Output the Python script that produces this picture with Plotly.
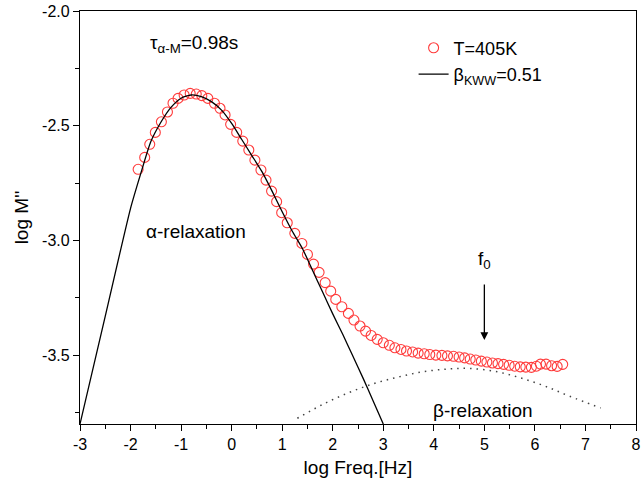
import plotly.graph_objects as go

# Measured data (T=405K)
log_freq = [-1.85, -1.72, -1.62, -1.51, -1.39, -1.27, -1.16, -1.06, -0.94, -0.82,
            -0.70, -0.59, -0.47, -0.34, -0.23, -0.13, -0.02, 0.10, 0.22, 0.34,
            0.46, 0.58, 0.68, 0.79, 0.89, 0.99, 1.10, 1.25, 1.39, 1.50,
            1.62, 1.73, 1.85, 1.96, 2.06, 2.18, 2.31, 2.42, 2.54, 2.65,
            2.76, 2.88, 3.00, 3.12, 3.23, 3.35, 3.46, 3.58, 3.69, 3.81,
            3.92, 4.04, 4.16, 4.27, 4.39, 4.50, 4.61, 4.72, 4.83, 4.94,
            5.05, 5.16, 5.27, 5.38, 5.49, 5.60, 5.71, 5.82, 5.93, 6.03,
            6.11, 6.22, 6.33, 6.44, 6.55]
log_M2 = [-2.690, -2.638, -2.581, -2.529, -2.483, -2.440, -2.402, -2.381, -2.366, -2.359,
          -2.362, -2.369, -2.381, -2.402, -2.424, -2.453, -2.494, -2.529, -2.567, -2.606,
          -2.650, -2.693, -2.737, -2.785, -2.831, -2.879, -2.923, -2.969, -3.013, -3.061,
          -3.103, -3.139, -3.184, -3.221, -3.257, -3.289, -3.318, -3.347, -3.373, -3.395,
          -3.414, -3.431, -3.446, -3.457, -3.468, -3.475, -3.482, -3.486, -3.491, -3.494,
          -3.497, -3.500, -3.501, -3.503, -3.505, -3.508, -3.512, -3.517, -3.521, -3.526,
          -3.530, -3.534, -3.537, -3.540, -3.544, -3.548, -3.551, -3.552, -3.553, -3.548,
          -3.539, -3.539, -3.546, -3.549, -3.540]

# KWW fit (alpha relaxation)
fit_x = [-3.0, -2.5, -2.0, -1.8, -1.6, -1.4, -1.2, -1.0, -0.8, -0.6, -0.4, -0.2, 0.0,
         0.2, 0.4, 0.6, 0.8, 1.0, 1.2, 1.4, 1.6, 1.8, 2.0, 2.2, 2.4, 2.6, 2.8, 3.0]
fit_y = [-3.80, -3.33, -2.86, -2.71, -2.57, -2.485, -2.42, -2.38, -2.366, -2.373, -2.395,
         -2.432, -2.49, -2.56, -2.63, -2.70, -2.785, -2.875, -2.96, -3.035, -3.13, -3.225,
         -3.32, -3.41, -3.505, -3.60, -3.70, -3.80]

# beta relaxation (dotted)
beta_x = [1.3, 1.8, 2.3, 2.8, 3.3, 3.8, 4.3, 4.7, 5.2, 5.7, 6.2, 6.7, 7.3]
beta_y = [-3.775, -3.715, -3.665, -3.625, -3.595, -3.572, -3.560, -3.558, -3.570,
          -3.598, -3.635, -3.68, -3.73]

x_ticks = [-3, -2, -1, 0, 1, 2, 3, 4, 5, 6, 7, 8]
x_ticklabels = ["-3", "-2", "-1", "0", "1", "2", "3", "4", "5", "6", "7", "8"]
y_ticks = [-3.5, -3.0, -2.5, -2.0]
y_ticklabels = ["-3.5", "-3.0", "-2.5", "-2.0"]

FONT = "Liberation Sans, Arial, sans-serif"
ANN = dict(size=19, color="black", family=FONT)

fig = go.Figure()
fig.add_trace(go.Scatter(
    x=log_freq, y=log_M2, mode="markers", name="T=405K",
    marker=dict(symbol="circle-open", size=10, color="#ff3b3b", line=dict(width=1.1, color="#ff3b3b")),
    legendgroup="a"))
fig.add_trace(go.Scatter(
    x=fit_x, y=fit_y, mode="lines", name="β<sub>KWW</sub>=0.51",
    line=dict(color="black", width=1.3, shape="spline", smoothing=0.6), legendgroup="b"))
fig.add_trace(go.Scatter(
    x=beta_x, y=beta_y, mode="lines", showlegend=False,
    line=dict(color="#444", width=1.5, dash="1.5px,5px", shape="spline")))

fig.add_annotation(x=-0.74, y=-2.144, xref="x", yref="y", showarrow=False,
                   text="τ<sub>α-M</sub>=0.98s", font=ANN)
fig.add_annotation(x=-0.70, y=-2.963, xref="x", yref="y", showarrow=False,
                   text="α-relaxation", font=ANN)
fig.add_annotation(x=4.97, y=-3.74, xref="x", yref="y", showarrow=False,
                   text="β-relaxation", font=ANN)
fig.add_annotation(x=5.0, y=-3.085, xref="x", yref="y", showarrow=False,
                   text="f<sub>0</sub>", font=ANN)
fig.add_annotation(x=5.0, y=-3.434, ax=5.0, ay=-3.186, xref="x", yref="y",
                   axref="x", ayref="y", showarrow=True, text="",
                   arrowhead=2, arrowsize=1.2, arrowwidth=1.3, arrowcolor="black")

axis_common = dict(showline=True, linecolor="black", linewidth=1.2, mirror=True,
                   ticks="outside", ticklen=6, tickwidth=1.2, tickcolor="black",
                   showgrid=False, zeroline=False, automargin=False,
                   tickfont=dict(size=16, color="black", family=FONT))

fig.update_xaxes(range=[-3, 8], tickmode="array", tickvals=x_ticks, ticktext=x_ticklabels,
                 minor=dict(dtick=0.5, tick0=-3, ticks="outside", ticklen=4, tickcolor="black", tickwidth=1.2),
                 title=dict(text="log Freq.[Hz]", font=dict(size=19, color="black", family=FONT), standoff=8),
                 **axis_common)
fig.update_yaxes(range=[-3.8, -2.0], tickmode="array", tickvals=y_ticks, ticktext=y_ticklabels,
                 minor=dict(dtick=0.25, tick0=-2.0, ticks="outside", ticklen=4, tickcolor="black", tickwidth=1.2),
                 title=dict(text="log M''", font=dict(size=19, color="black", family=FONT), standoff=8),
                 **axis_common)

fig.update_layout(
    width=643, height=491,
    margin=dict(l=80, r=7, t=11, b=67),
    paper_bgcolor="white", plot_bgcolor="white",
    font=dict(family=FONT, color="black"),
    legend=dict(x=0.6, y=0.955, xanchor="left", yanchor="top",
                bgcolor="rgba(0,0,0,0)", font=dict(size=18, family=FONT, color="black"),
                traceorder="grouped", tracegroupgap=0),
)

fig.write_html("out.html", config={"displayModeBar": False},
               post_script="document.body.style.margin='0';document.body.style.padding='0';")
